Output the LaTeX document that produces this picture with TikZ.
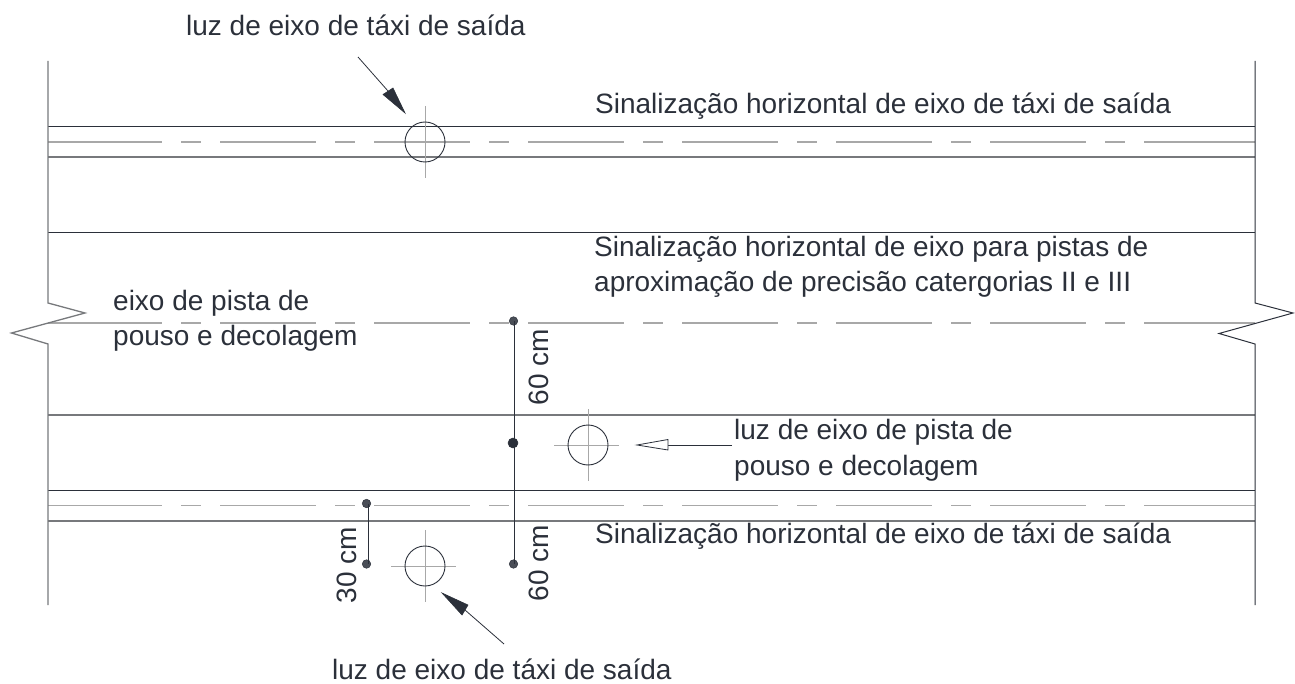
\documentclass[tikz,border=0pt]{standalone}
\usepackage{fontspec}
\setmainfont{Liberation Sans}
\definecolor{ink}{HTML}{2B303A}
\definecolor{midgrey}{HTML}{77797C}
\definecolor{ltgrey}{HTML}{A8A8A8}
\definecolor{dotgrey}{HTML}{4A4E57}
\tikzset{
  x=1pt,y=-1pt,
  lbl/.style={anchor=base west,inner sep=0pt,text=ink,font=\fontsize{28}{28}\selectfont},
  vlbl/.style={anchor=base west,inner sep=0pt,text=ink,rotate=90,font=\fontsize{28}{28}\selectfont},
  edge/.style={draw=ink,line width=1pt},
  edgeg/.style={draw=midgrey,line width=1.3pt},
  axis/.style={draw=ltgrey,line width=1.1pt,dash pattern=on 96pt off 19pt on 20pt off 19pt},
  axisend/.style={draw=ltgrey,line width=1.1pt},
  crossl/.style={draw=ltgrey,line width=1pt},
  lamp/.style={circle,draw=ink,line width=0.9pt,minimum size=40pt,inner sep=0pt},
  dot/.style={circle,fill=dotgrey,draw=ink,line width=0.5pt,minimum size=8.5pt,inner sep=0pt},
  dim/.style={draw=ink,line width=1pt},
  lead/.style={draw=ink,line width=0.8pt},
  solidhead/.style={fill=ink,draw=ink,line width=0.6pt,line join=miter},
  openhead/.style={fill=white,draw=ink,line width=0.8pt},
}
\begin{document}
\begin{tikzpicture}
\useasboundingbox (0,0) rectangle (1295,684);
% horizontal lines
\draw[edge] (48,127) -- (1255,127);
\draw[edgeg] (48,157) -- (1255,157);
\draw[edge] (48,233) -- (1255,233);
\draw[edgeg] (48,415) -- (1255,415);
\draw[edge] (48,490.5) -- (1255,490.5);
\draw[edgeg] (48,521) -- (1255,521);
% axes
\foreach \yy in {142,323,505.5}{
  \draw[axisend] (48,\yy) -- (66,\yy);
  \draw[axis] (66,\yy) -- (1240,\yy);
  \draw[axisend] (1240,\yy) -- (1255,\yy);
}
% borders with break marks
\draw[edgeg,line join=miter] (48,61) -- (48,303) -- (85,313) -- (11.5,333) -- (48,344) -- (48,605);
\draw[edge,line join=miter] (1255,61) -- (1255,303) -- (1293,313) -- (1219,333.5) -- (1255,344) -- (1255,605);
% lamp crosses
\draw[crossl] (391,142) -- (456,142) (425,106) -- (425,178);
\draw[crossl] (554,445) -- (619,445) (588,409) -- (588,481);
\draw[crossl] (391,566) -- (456,566) (425,530) -- (425,602);
\node[lamp] (lampa) at (425,142) {};
\node[lamp] (lampb) at (588,445) {};
\node[lamp] (lampc) at (425,566) {};
% dimension lines
\node[dot] (d1) at (513.5,321) {};
\node[dot,fill=ink,minimum size=10pt] (d2) at (513,443) {};
\node[dot] (d3) at (513.5,564) {};
\node[dot] (d4) at (366.5,503.5) {};
\node[dot] (d5) at (366.5,564) {};
\draw[dim] ([xshift=1pt]d1.center) -- ([xshift=1pt]d3.center);
\draw[dim] ([xshift=1.5pt]d4.center) -- ([xshift=1.5pt]d5.center);
% leaders
\coordinate (a1s) at (358,57);
\coordinate (a1b) at (388,91);
\coordinate (a1t) at (405,113);
\draw[lead] (a1s) -- (a1b);
\draw[solidhead] (a1t) -- (383,94.5) -- (393,88) -- cycle;
\coordinate (a2s) at (732,445);
\coordinate (a2b) at (668,445);
\coordinate (a2t) at (637,445);
\draw[lead] (a2s) -- (a2b);
\draw[openhead] (a2t) -- (668,439.5) -- (668,450) -- cycle;
\coordinate (a3s) at (504,644);
\coordinate (a3b) at (465,610);
\coordinate (a3t) at (442,593);
\draw[lead] (a3s) -- (a3b);
\draw[solidhead] (a3t) -- (468,605) -- (462,615) -- cycle;
% labels
\node[lbl] (t1) at (186,36) {luz de eixo de táxi de saída};
\node[lbl] (t2) at (595,114) {Sinalização horizontal de eixo de táxi de saída};
\node[lbl] (t3) at (594,256.5) {Sinalização horizontal de eixo para pistas de};
\node[lbl] (t4) at (594,291.5) {aproximação de precisão catergorias II e III};
\node[lbl] (t5) at (113,310.5) {eixo de pista de};
\node[lbl] (t6) at (113,345.5) {pouso e decolagem};
\node[lbl] (t7) at (734,439.5) {luz de eixo de pista de};
\node[lbl] (t8) at (734,475) {pouso e decolagem};
\node[lbl] (t9) at (595,543) {Sinalização horizontal de eixo de táxi de saída};
\node[lbl] (t10) at (332,679.5) {luz de eixo de táxi de saída};
\node[vlbl] (v1) at (548.5,405.5) {60 cm};
\node[vlbl] (v2) at (548.5,601.5) {60 cm};
\node[vlbl] (v3) at (356.5,603.5) {30 cm};
\end{tikzpicture}
\end{document}
